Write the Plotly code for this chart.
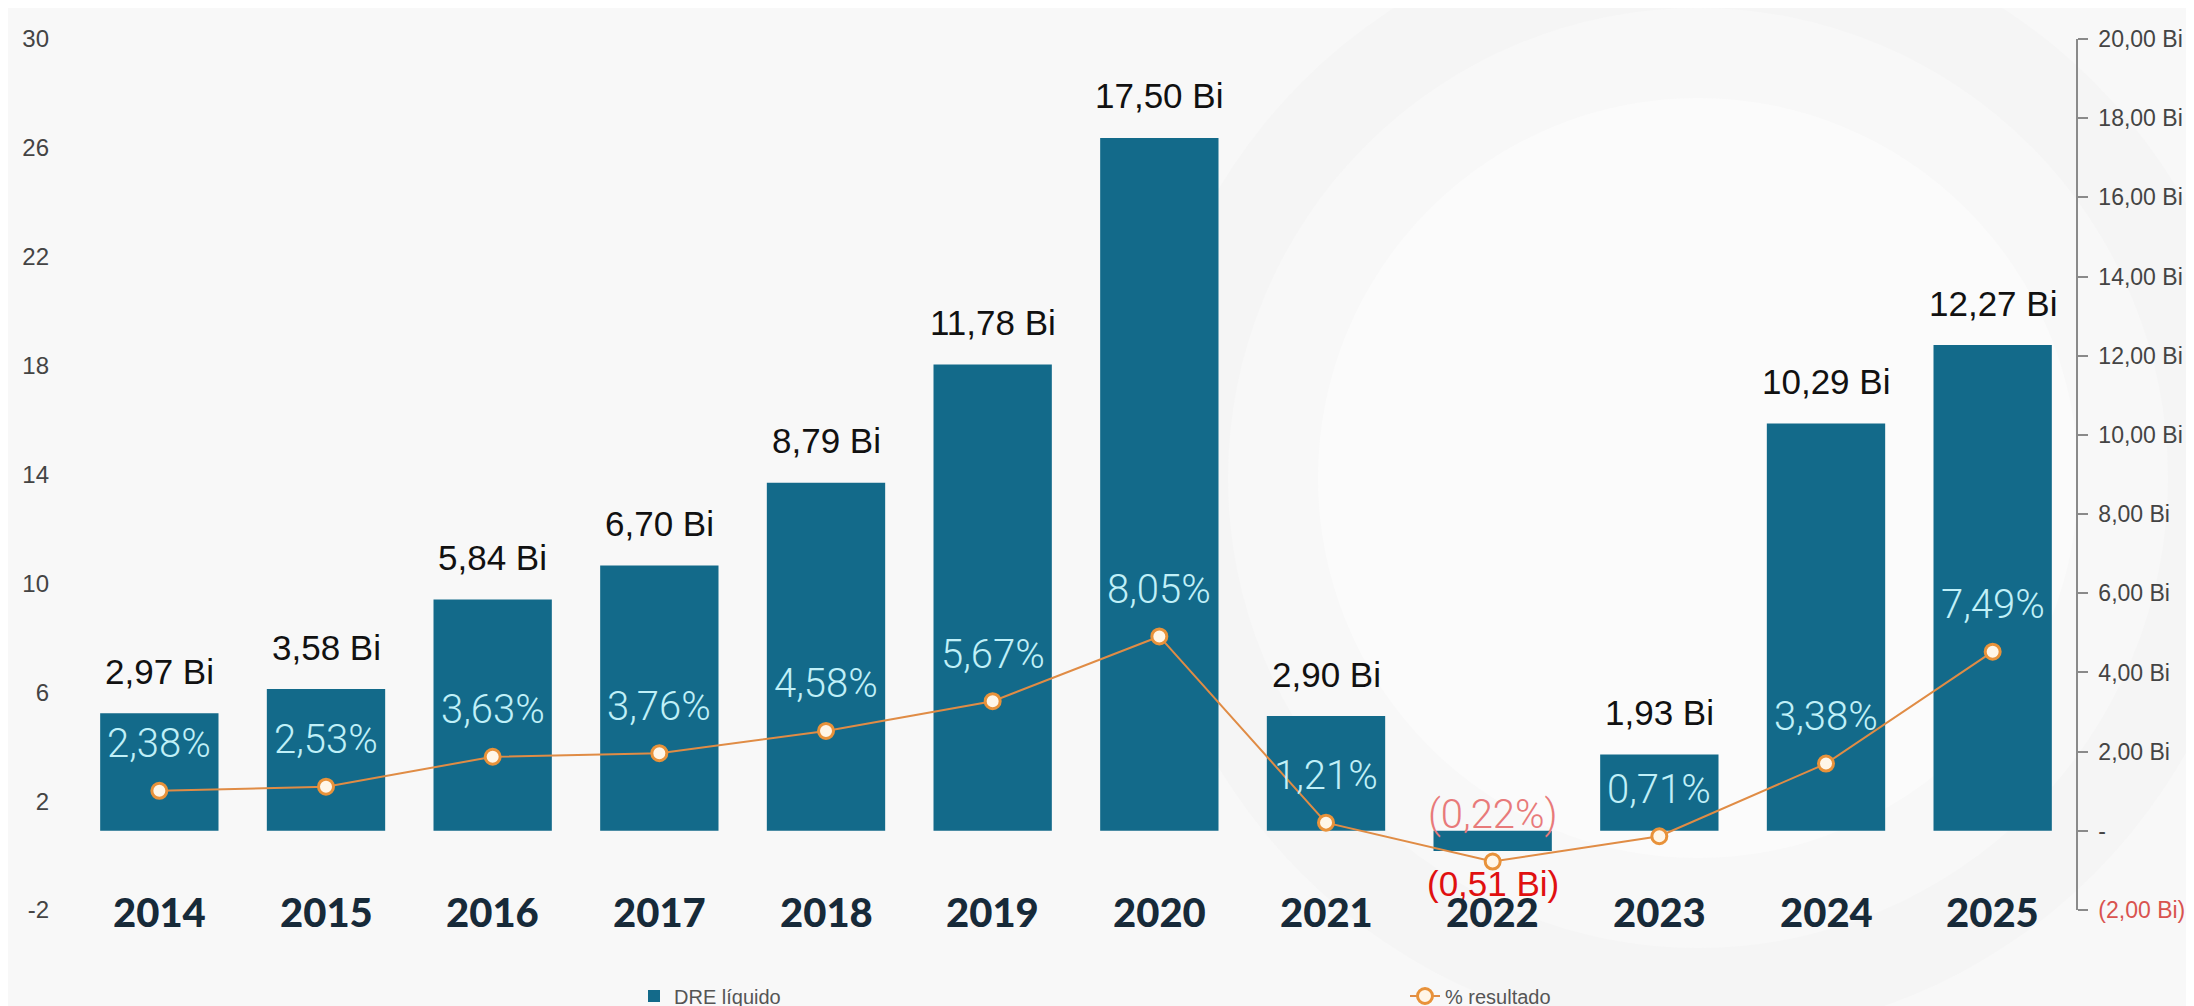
import plotly.graph_objects as go

# ---- data ----
years = ["2014", "2015", "2016", "2017", "2018", "2019", "2020", "2021", "2022", "2023", "2024", "2025"]
dre_liquido = [2.97, 3.58, 5.84, 6.70, 8.79, 11.78, 17.50, 2.90, -0.51, 1.93, 10.29, 12.27]
pct_resultado = [2.38, 2.53, 3.63, 3.76, 4.58, 5.67, 8.05, 1.21, -0.22, 0.71, 3.38, 7.49]
left_ticks = [30, 26, 22, 18, 14, 10, 6, 2, -2]
right_ticks = [20, 18, 16, 14, 12, 10, 8, 6, 4, 2, 0, -2]


def br(v, dec=2):
    return f"{abs(v):.{dec}f}".replace(".", ",")


def bi_label(v):
    return f"({br(v)} Bi)" if v < 0 else f"{br(v)} Bi"


def pct_label(v):
    return f"({br(v)}%)" if v < 0 else f"{br(v)}%"


def right_tick(v):
    if v == 0:
        return "-"
    if v < 0:
        return f"<span style='color:#d9534f'>({br(v)} Bi)</span>"
    return f"{br(v)} Bi"


W, H = 2194, 1006
ML, MR, MT, MB = 68, 126, 31, 104
PW, PH = W - ML - MR, H - MT - MB

BAR_COLOR = "#136a8a"
LINE_COLOR = "#e08c45"

fig = go.Figure()

# bars on the primary (right-side) axis, line on the overlaying left axis so it is drawn on top
fig.add_trace(go.Bar(
    x=years, y=dre_liquido, name="DRE líquido",
    marker=dict(color=BAR_COLOR, line=dict(width=0)),
    yaxis="y", hoverinfo="skip",
))

fig.add_trace(go.Scatter(
    x=years, y=pct_resultado, name="% resultado",
    mode="lines+markers", yaxis="y2",
    line=dict(color=LINE_COLOR, width=2),
    marker=dict(size=15, color="#fff6e8", line=dict(color="#e8923a", width=3)),
    hoverinfo="skip",
))

annotations = []
for i, v in enumerate(dre_liquido):
    if v >= 0:
        annotations.append(dict(
            x=i, y=v, xref="x", yref="y", text=bi_label(v), showarrow=False,
            yanchor="middle", yshift=42,
            font=dict(family="Liberation Sans, Arial", size=35, color="#111111"),
        ))
    else:
        annotations.append(dict(
            x=i, y=v, xref="x", yref="y", text=bi_label(v), showarrow=False,
            yanchor="middle", yshift=-32,
            font=dict(family="Liberation Sans, Arial", size=35, color="#e01010"),
        ))

for i, p in enumerate(pct_resultado):
    col = "#e87a7a" if p < 0 else "#c0f0f8"
    annotations.append(dict(
        x=i, y=p, xref="x", yref="y2", text=pct_label(p), showarrow=False,
        yanchor="middle", yshift=47 if p >= 0 else 47,
        font=dict(family="Roboto, Liberation Sans", size=40, color=col, weight=300),
    ))

for i, yr in enumerate(years):
    annotations.append(dict(
        x=i, y=0, xref="x", yref="paper", text=yr, showarrow=False,
        yanchor="middle", yshift=-2,
        font=dict(family="Lato, Inter, DejaVu Sans", size=40, color="#172a39", weight=900),
    ))


def px_to_paper_x(px):
    return (px - ML) / PW


def px_to_paper_y(py):
    return (H - MB - py) / PH


# faint watermark rings in the background
shapes = []
cx, cy = 1690, 470
for r, fill in [(560, "#f5f5f5"), (470, "#f8f8f8"), (380, "#fbfbfb")]:
    shapes.append(dict(
        type="circle", xref="paper", yref="paper", layer="below",
        x0=px_to_paper_x(cx - r), x1=px_to_paper_x(cx + r),
        y0=px_to_paper_y(cy + r), y1=px_to_paper_y(cy - r),
        fillcolor=fill, line=dict(width=0),
    ))

fig.update_layout(
    width=W, height=H,
    margin=dict(l=ML, r=MR, t=MT, b=MB, autoexpand=False),
    paper_bgcolor="#f8f8f8",
    plot_bgcolor="rgba(0,0,0,0)",
    bargap=0.29,
    showlegend=True,
    legend=dict(
        orientation="h", x=px_to_paper_x(626), xanchor="left",
        y=px_to_paper_y(988), yanchor="middle",
        entrywidth=726, entrywidthmode="pixels",
        font=dict(family="Liberation Sans, Arial", size=20, color="#555555"),
        bgcolor="rgba(0,0,0,0)", traceorder="normal",
    ),
    xaxis=dict(
        type="category", range=[-0.5, 11.5], showticklabels=False,
        showgrid=False, zeroline=False, showline=False, ticks="",
    ),
    yaxis=dict(
        range=[-2, 20], side="right",
        tickvals=right_ticks, ticktext=[right_tick(t) for t in right_ticks],
        showgrid=False, zeroline=False,
        showline=True, linecolor="#8a8a8a", linewidth=1.5,
        ticks="outside", ticklen=10, tickcolor="#8a8a8a", tickwidth=1.5,
        ticklabelstandoff=6,
        tickfont=dict(family="Liberation Sans, Arial", size=23, color="#444444"),
    ),
    yaxis2=dict(
        range=[-2, 30], overlaying="y", side="left",
        tickvals=left_ticks, ticktext=[str(t) for t in left_ticks],
        showgrid=False, zeroline=False, showline=False, ticks="",
        ticklabelstandoff=26,
        tickfont=dict(family="Liberation Sans, Arial", size=24, color="#444444"),
    ),
    annotations=annotations,
    shapes=shapes,
)

fig.write_html("out.html")
